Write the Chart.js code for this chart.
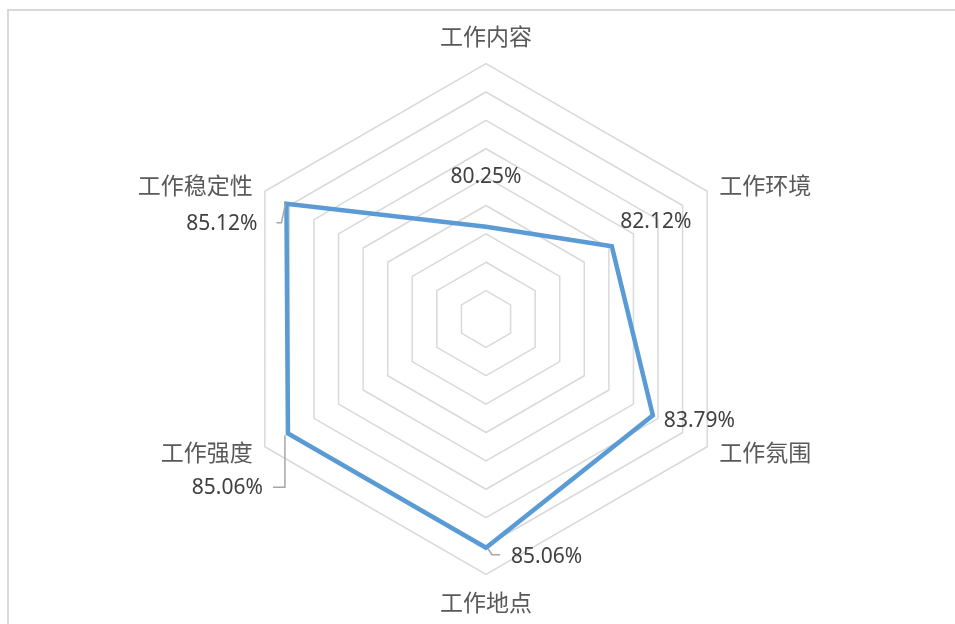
<!DOCTYPE html>
<html>
<head>
<meta charset="utf-8">
<script src="https://cdn.jsdelivr.net/npm/chart.js@4"></script>
<style>
  body { margin: 0; background: #fff; overflow: hidden; }
  #frame { position: absolute; left: 7px; top: 9px; width: 1000px; height: 700px; border: 2px solid #d9d9d9; }
  #wrap { position: absolute; left: 0; top: 0; width: 955px; height: 624px; }
</style>
</head>
<body>
<div id="frame"></div>
<div id="wrap"><canvas id="radarChart"></canvas></div>
<script>
// categories and values (percent)
const categories = ["工作内容", "工作环境", "工作氛围", "工作地点", "工作强度", "工作稳定性"];
const satisfaction = [80.25, 82.12, 83.79, 85.06, 85.06, 85.12];
const scaleMin = 77;
const scaleMax = 86;

// where each value label sits relative to its point: [dx, dy, align]
const labelPlacement = [
  [0, -50, "center"],
  [44, -24, "center"],
  [11, 6, "left"],
  [25, 9, "left"],
  [-25, 55, "right"],
  [-29, 20, "right"],
];
// leader lines (relative to point), empty = none
const leaders = [
  [],
  [],
  [],
  [[2, 1], [6, 7], [14, 7]],
  [[-3, 2], [-3, 54], [-15, 54]],
  [[-1, 0], [-5, 19], [-10, 19]],
];

const valueLabels = {
  id: "valueLabels",
  afterDatasetsDraw(chart) {
    const ctx = chart.ctx;
    const meta = chart.getDatasetMeta(0);
    ctx.save();
    meta.data.forEach((pt, i) => {
      const lead = leaders[i];
      if (lead.length) {
        ctx.beginPath();
        ctx.strokeStyle = "#a6a6a6";
        ctx.lineWidth = 1.5;
        lead.forEach(([dx, dy], j) => {
          if (j === 0) ctx.moveTo(pt.x + dx, pt.y + dy);
          else ctx.lineTo(pt.x + dx, pt.y + dy);
        });
        ctx.stroke();
      }
      const [dx, dy, align] = labelPlacement[i];
      ctx.font = '21px "Noto Sans", sans-serif';
      ctx.fillStyle = "#404040";
      ctx.textAlign = align;
      ctx.textBaseline = "middle";
      ctx.fillText(satisfaction[i].toFixed(2) + "%", pt.x + dx, pt.y + dy);
    });
    ctx.restore();
  },
};

new Chart(document.getElementById("radarChart"), {
  type: "radar",
  data: {
    labels: categories,
    datasets: [
      {
        data: satisfaction,
        borderColor: "#5b9bd5",
        backgroundColor: "rgba(0,0,0,0)",
        borderWidth: 4.5,
        pointRadius: 0,
        pointHoverRadius: 0,
        fill: false,
        tension: 0,
      },
    ],
  },
  options: {
    responsive: true,
    maintainAspectRatio: false,
    animation: false,
    layout: { padding: { left: 17, right: 0, top: 23, bottom: 7 } },
    plugins: {
      legend: { display: false },
      tooltip: { enabled: false },
    },
    scales: {
      r: {
        min: scaleMin,
        max: scaleMax,
        ticks: { display: false, stepSize: 1 },
        angleLines: { display: false },
        grid: { color: "#d9d9d9", lineWidth: 1.5 },
        pointLabels: {
          padding: 14,
          color: "#595959",
          font: { family: '"Noto Sans CJK SC", sans-serif', size: 23 },
        },
        // centre the side labels on their spoke, like the original
        afterFit(scale) {
          const items = scale._pointLabelItems || [];
          items.forEach((item, i) => {
            if (i === 1 || i === 5) item.y += 15;
            if (i === 2 || i === 4) item.y -= 15;
          });
        },
      },
    },
  },
  plugins: [valueLabels],
});
</script>
</body>
</html>
